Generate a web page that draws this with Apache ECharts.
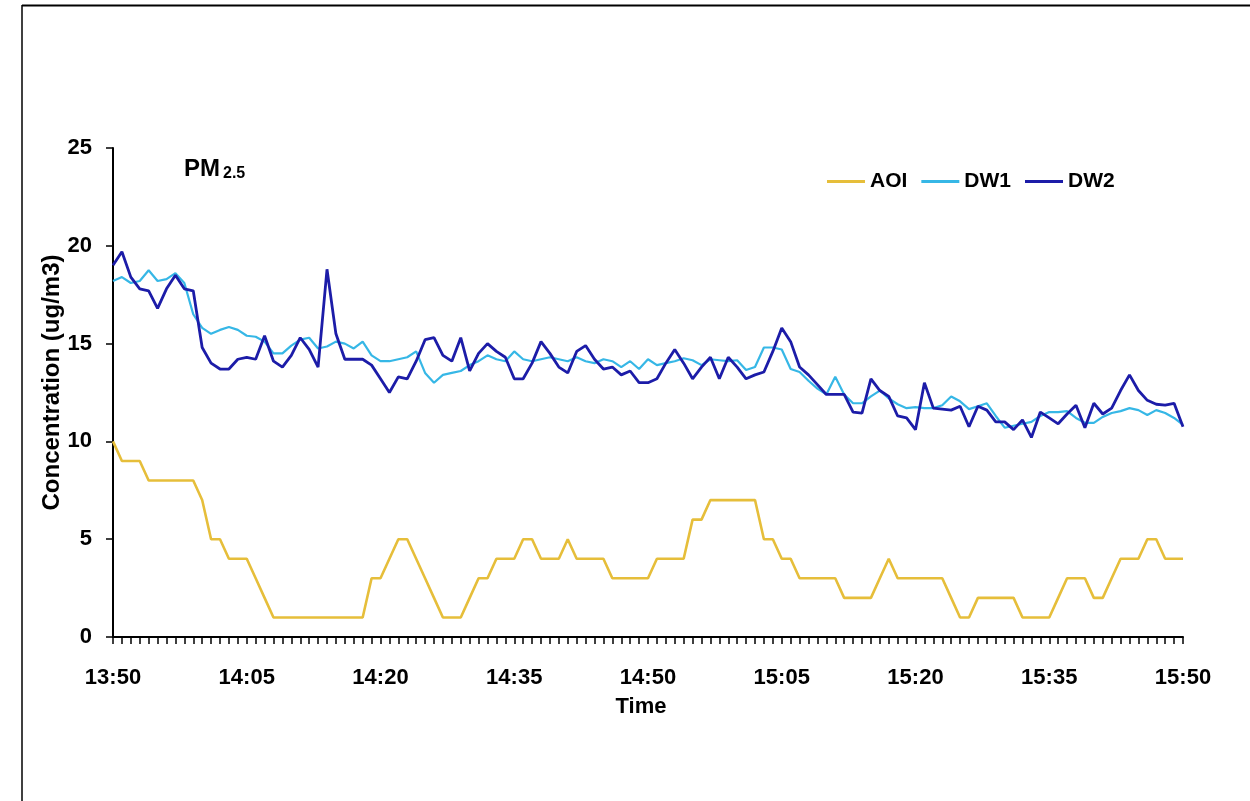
<!DOCTYPE html>
<html>
<head>
<meta charset="utf-8">
<script src="https://cdn.jsdelivr.net/npm/echarts@6/dist/echarts.min.js"></script>
<style>
html,body{margin:0;padding:0;background:#fff;}
#chart{width:1250px;height:801px;}
</style>
</head>
<body>
<div id="chart"></div>
<script>
// minutes after 13:50 (one reading per minute)
const startHour = 13, startMinute = 50, minutesCount = 121;
const tickLabels = ['13:50','14:05','14:20','14:35','14:50','15:05','15:20','15:35','15:50'];
const seriesNames = ['AOI','DW1','DW2'];

const aoi = [
 10,9,9,9,8,8,8,8,8,8,
 7,5,5,4,4,4,3,2,1,1,
 1,1,1,1,1,1,1,1,1,3,
 3,4,5,5,4,3,2,1,1,1,
 2,3,3,4,4,4,5,5,4,4,
 4,5,4,4,4,4,3,3,3,3,
 3,4,4,4,4,6,6,7,7,7,
 7,7,7,5,5,4,4,3,3,3,
 3,3,2,2,2,2,3,4,3,3,
 3,3,3,3,2,1,1,2,2,2,
 2,2,1,1,1,1,2,3,3,3,
 2,2,3,4,4,4,5,5,4,4,
 4
];

const dw1 = [
 18.2,18.4,18.1,18.2,18.75,18.2,18.3,18.6,18.1,16.5,
 15.8,15.5,15.7,15.85,15.7,15.4,15.35,15.1,14.5,14.5,
 14.9,15.2,15.3,14.75,14.85,15.1,15.0,14.75,15.1,14.4,
 14.1,14.1,14.2,14.3,14.6,13.5,13.0,13.4,13.5,13.6,
 13.9,14.1,14.4,14.2,14.1,14.6,14.2,14.1,14.2,14.3,
 14.2,14.1,14.3,14.1,14.0,14.2,14.1,13.8,14.1,13.7,
 14.2,13.9,14.0,14.1,14.25,14.15,13.9,14.2,14.15,14.1,
 14.15,13.65,13.8,14.8,14.8,14.7,13.7,13.55,13.1,12.7,
 12.4,13.3,12.4,11.95,11.95,12.3,12.6,12.2,11.9,11.7,
 11.75,11.7,11.7,11.85,12.3,12.05,11.65,11.8,11.95,11.3,
 10.7,10.8,10.9,11.0,11.3,11.5,11.5,11.55,11.2,10.95,
 10.95,11.25,11.45,11.55,11.7,11.6,11.35,11.6,11.45,11.2,
 10.85
];

const dw2 = [
 19.0,19.7,18.4,17.8,17.7,16.8,17.8,18.5,17.8,17.7,
 14.8,14.0,13.7,13.7,14.2,14.3,14.2,15.4,14.1,13.8,
 14.4,15.3,14.7,13.8,18.8,15.5,14.2,14.2,14.2,13.9,
 13.2,12.5,13.3,13.2,14.1,15.2,15.3,14.4,14.1,15.3,
 13.6,14.5,15.0,14.6,14.3,13.2,13.2,14.0,15.1,14.5,
 13.8,13.5,14.6,14.9,14.2,13.7,13.8,13.4,13.6,13.0,
 13.0,13.2,14.0,14.7,14.0,13.2,13.8,14.3,13.2,14.3,
 13.8,13.2,13.4,13.55,14.6,15.8,15.1,13.8,13.4,12.9,
 12.4,12.4,12.4,11.5,11.45,13.2,12.6,12.3,11.3,11.2,
 10.6,13.0,11.7,11.65,11.6,11.8,10.75,11.8,11.6,11.0,
 11.0,10.6,11.1,10.2,11.5,11.2,10.9,11.4,11.85,10.7,
 11.95,11.4,11.7,12.6,13.4,12.6,12.1,11.9,11.85,11.95,
 10.75
];

const categories = [];
for (let i = 0; i < minutesCount; i++) {
  const total = startHour * 60 + startMinute + i;
  const h = Math.floor(total / 60), m = total % 60;
  categories.push(h + ':' + (m < 10 ? '0' + m : m));
}

const FONT = '"Liberation Sans", Arial, sans-serif';
const chart = echarts.init(document.getElementById('chart'), null, {renderer: 'canvas'});
chart.setOption({
  backgroundColor: '#ffffff',
  animation: false,
  grid: {left: 113, right: 67, top: 148, bottom: 164, containLabel: false},
  legend: {
    data: seriesNames,
    left: 822, top: 166,
    itemWidth: 38, itemHeight: 14, itemGap: 14,
    icon: 'path://M0,5.5 L38,5.5 L38,8.5 L0,8.5 Z',
    textStyle: {fontFamily: FONT, fontWeight: 'bold', fontSize: 21, color: '#000'}
  },
  xAxis: {
    type: 'category',
    data: categories,
    boundaryGap: false,
    name: 'Time',
    nameLocation: 'middle',
    nameGap: 59,
    nameMoveOverlap: false,
    nameTextStyle: {fontFamily: FONT, fontWeight: 'bold', fontSize: 22, color: '#000', padding: [0, 14, 0, 0]},
    axisLine: {lineStyle: {color: '#000', width: 2}},
    axisTick: {show: true, interval: 0, length: 7, lineStyle: {color: '#000', width: 1.5}},
    axisLabel: {
      interval: 14, margin: 30, color: '#000',
      fontFamily: FONT, fontWeight: 'bold', fontSize: 22,
      formatter: function (v) { return tickLabels.indexOf(v) >= 0 ? v : ''; }
    },
    splitLine: {show: false}
  },
  yAxis: {
    type: 'value', min: 0, max: 25, interval: 5,
    name: 'Concentration (ug/m3)',
    nameLocation: 'middle',
    nameRotate: 90,
    nameGap: 49,
    nameMoveOverlap: false,
    nameTextStyle: {fontFamily: FONT, fontWeight: 'bold', fontSize: 24, color: '#000', padding: [0, 0, 0, 20]},
    axisLine: {show: true, lineStyle: {color: '#000', width: 2}},
    axisTick: {show: true, length: 7, lineStyle: {color: '#000', width: 1.5}},
    axisLabel: {margin: 21, color: '#000', fontFamily: FONT, fontWeight: 'bold', fontSize: 22},
    splitLine: {show: false}
  },
  series: [
    {name: 'AOI', type: 'line', data: aoi, symbol: 'none', color: '#E6BE3A',
     lineStyle: {width: 2.6, color: '#E6BE3A'}},
    {name: 'DW1', type: 'line', data: dw1, symbol: 'none', color: '#36B7E6',
     lineStyle: {width: 2.2, color: '#36B7E6'}},
    {name: 'DW2', type: 'line', data: dw2, symbol: 'none', color: '#1C1CA8',
     lineStyle: {width: 2.8, color: '#1C1CA8'}}
  ],
  graphic: [
    {type: 'line', shape: {x1: 22, y1: 5.5, x2: 1250, y2: 5.5}, style: {stroke: '#000', lineWidth: 2}},
    {type: 'line', shape: {x1: 22, y1: 5, x2: 22, y2: 801}, style: {stroke: '#000', lineWidth: 1.5}},
    {type: 'text', left: 184, top: 157, style: {text: 'PM', fontFamily: FONT, fontWeight: 'bold', fontSize: 24, fill: '#000'}},
    {type: 'text', left: 223, top: 166, style: {text: '2.5', fontFamily: FONT, fontWeight: 'bold', fontSize: 16, fill: '#000'}}
  ]
});
</script>
</body>
</html>
